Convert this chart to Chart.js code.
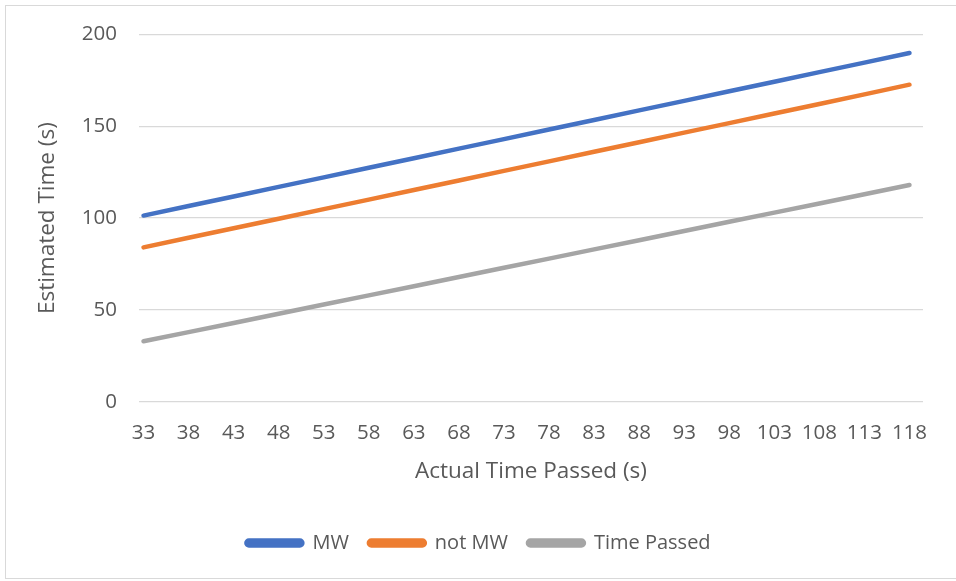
<!DOCTYPE html>
<html>
<head>
<meta charset="utf-8">
<script src="https://cdn.jsdelivr.net/npm/chart.js@4/dist/chart.umd.min.js"></script>
<style>
  html, body { margin: 0; padding: 0; background: #fff; }
  #wrap { position: relative; width: 956px; height: 581px; }
  #frame { position: absolute; left: 5px; top: 5px; width: 960px; height: 574px; border: 1px solid #d9d9d9; box-sizing: border-box; }
  canvas { position: absolute; left: 0; top: 0; }
</style>
</head>
<body>
<div id="wrap">
  <div id="frame"></div>
  <canvas id="c" width="956" height="581"></canvas>
</div>
<script>
// Actual time passed (s) at each labelled category
const xTicks = [33, 38, 43, 48, 53, 58, 63, 68, 73, 78, 83, 88, 93, 98, 103, 108, 113, 118];
const yTicks = [0, 50, 100, 150, 200];
// Estimated time (s)
const mwValues       = [101.4, 106.6, 111.8, 117.0, 122.2, 127.4, 132.6, 137.8, 143.0, 148.2, 153.4, 158.6, 163.8, 169.0, 174.2, 179.4, 184.6, 189.8];
const notMwValues    = [84.1, 89.3, 94.5, 99.7, 104.9, 110.1, 115.3, 120.5, 125.7, 130.9, 136.1, 141.3, 146.5, 151.7, 156.9, 162.1, 167.3, 172.6];
const timePassedVals = [33, 38, 43, 48, 53, 58, 63, 68, 73, 78, 83, 88, 93, 98, 103, 108, 113, 118];

const seriesNames = ['MW', 'not MW', 'Time Passed'];
const seriesColors = ['#4472C4', '#ED7D31', '#A5A5A5'];
const seriesValues = [mwValues, notMwValues, timePassedVals];

const FONT = "'Open Sans', sans-serif";
const TXT = '#595959';

const datasets = seriesNames.map((name, i) => ({
  label: name,
  data: xTicks.map((x, j) => ({ x: x, y: seriesValues[i][j] })),
  borderColor: seriesColors[i],
  backgroundColor: seriesColors[i],
  borderWidth: 4.5,
  borderCapStyle: 'round',
  borderJoinStyle: 'round',
  pointRadius: 0,
  tension: 0
}));

new Chart(document.getElementById('c'), {
  type: 'line',
  data: { datasets },
  options: {
    responsive: false,
    animation: false,
    layout: { padding: { top: 34, left: 34, right: 33, bottom: 18 } },
    plugins: {
      tooltip: { enabled: false },
      legend: {
        position: 'bottom',
        labels: {
          font: { family: FONT, size: 20 },
          color: TXT,
          boxWidth: 56,
          boxHeight: 5,
          useBorderRadius: true,
          borderRadius: 2.5,
          padding: 20
        }
      }
    },
    scales: {
      x: {
        type: 'linear',
        min: 32.5,
        max: 119.5,
        afterBuildTicks: (scale) => { scale.ticks = xTicks.map(v => ({ value: v })); },
        grid: { display: false, drawTicks: false },
        border: { display: false },
        ticks: {
          autoSkip: false, maxRotation: 0, minRotation: 0,
          padding: 19,
          color: TXT,
          font: { family: FONT, size: 20.5 },
          callback: (v) => String(v)
        },
        title: {
          display: true,
          text: 'Actual Time Passed (s)',
          color: TXT,
          font: { family: FONT, size: 22.5 },
          padding: { top: 0, bottom: 28 }
        },
        afterFit: (scale) => { scale.height = 111; }
      },
      y: {
        min: 0,
        max: 200,
        afterBuildTicks: (scale) => { scale.ticks = yTicks.map(v => ({ value: v })); },
        grid: { color: '#d9d9d9', lineWidth: 1.3, drawTicks: false },
        border: { display: false },
        ticks: {
          padding: 22,
          color: TXT,
          font: { family: FONT, size: 20.5 }
        },
        title: {
          display: true,
          text: 'Estimated Time (s)',
          color: TXT,
          font: { family: FONT, size: 22.5 },
          padding: { top: 0, bottom: 0 }
        },
        afterFit: (scale) => { scale.width = 139 - 34; }
      }
    }
  }
});
</script>
</body>
</html>
